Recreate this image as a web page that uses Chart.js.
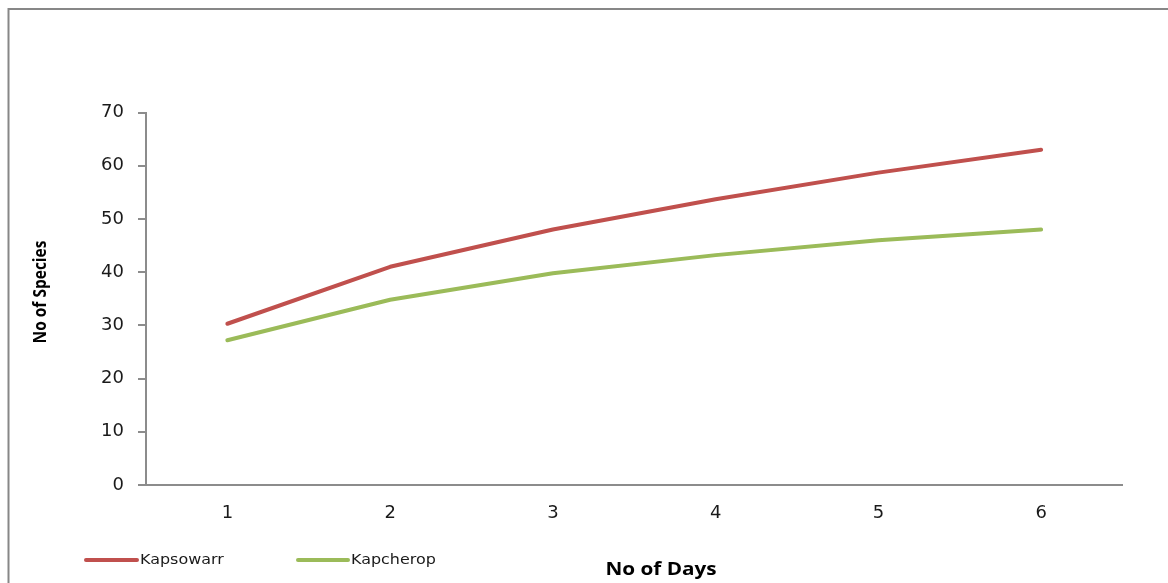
<!DOCTYPE html>
<html>
<head>
<meta charset="utf-8">
<title>No of Species by No of Days</title>
<script src="https://cdn.jsdelivr.net/npm/chart.js@4/dist/chart.umd.min.js"></script>
<style>
  html, body { margin: 0; padding: 0; background: #ffffff; }
  #wrap { width: 1168px; height: 583px; position: relative; }
  canvas { display: block; }
</style>
</head>
<body>
<div id="wrap"><canvas id="c" width="1168" height="583"></canvas></div>
<script>
// Survey effort: cumulative species counts per day at two sites
const days = ['1', '2', '3', '4', '5', '6'];
const kapsowarr = [30.3, 41.0, 48.0, 53.7, 58.7, 63.0];
const kapcherop = [27.2, 34.8, 39.8, 43.2, 46.0, 48.0];
const yTicks = [0, 10, 20, 30, 40, 50, 60, 70];

const seriesNames = ['Kapsowarr', 'Kapcherop'];
const seriesColors = ['#C0504D', '#9BBB59'];
const axisColor = '#8c8c8c';
const textColor = '#1a1a1a';

// Outer frame, legend and axis titles drawn on the canvas
const decorations = {
  id: 'decorations',
  afterDraw(chart) {
    const ctx = chart.ctx;
    ctx.save();
    // frame
    ctx.strokeStyle = '#878787';
    ctx.lineWidth = 2;
    ctx.strokeRect(8.5, 9, 1180, 600);

    // legend
    const items = [
      { x0: 86, x1: 137, tx: 140 },
      { x0: 298, x1: 348, tx: 351 }
    ];
    chart.data.datasets.forEach((ds, i) => {
      const it = items[i];
      const y = 560;
      ctx.strokeStyle = ds.borderColor;
      ctx.lineWidth = 4;
      ctx.lineCap = 'round';
      ctx.beginPath();
      ctx.moveTo(it.x0, y);
      ctx.lineTo(it.x1, y);
      ctx.stroke();
      ctx.save();
      ctx.translate(it.tx, y);
      ctx.scale(1.1, 1);
      ctx.fillStyle = textColor;
      ctx.font = '14.5px "DejaVu Sans"';
      ctx.textAlign = 'left';
      ctx.textBaseline = 'middle';
      ctx.fillText(ds.label, 0, 0);
      ctx.restore();
    });

    // x axis title
    ctx.save();
    ctx.translate(661, 570);
    ctx.scale(1.15, 1);
    ctx.fillStyle = '#000000';
    ctx.font = 'bold 18px "Open Sans"';
    ctx.textAlign = 'center';
    ctx.textBaseline = 'middle';
    ctx.fillText('No of Days', 0, 0);
    ctx.restore();

    // y axis title
    ctx.save();
    ctx.translate(41, 292);
    ctx.rotate(-Math.PI / 2);
    ctx.scale(1, 1.15);
    ctx.fillStyle = '#000000';
    ctx.font = 'bold 15.5px "Open Sans"';
    ctx.textAlign = 'center';
    ctx.textBaseline = 'middle';
    ctx.fillText('No of Species', 0, 0);
    ctx.restore();

    ctx.restore();
  }
};

new Chart(document.getElementById('c'), {
  type: 'line',
  data: {
    labels: days,
    datasets: [
      { label: seriesNames[0], data: kapsowarr, borderColor: seriesColors[0], backgroundColor: seriesColors[0] },
      { label: seriesNames[1], data: kapcherop, borderColor: seriesColors[1], backgroundColor: seriesColors[1] }
    ]
  },
  options: {
    responsive: false,
    animation: false,
    devicePixelRatio: 1,
    layout: { padding: { top: 112.5, right: 45.5, bottom: 0, left: 0 } },
    elements: {
      line: { borderWidth: 4, tension: 0, borderCapStyle: 'round', borderJoinStyle: 'round' },
      point: { radius: 0, hoverRadius: 0 }
    },
    plugins: {
      legend: { display: false },
      tooltip: { enabled: false },
      title: { display: false }
    },
    scales: {
      x: {
        type: 'category',
        offset: true,
        grid: { display: true, drawOnChartArea: false, drawTicks: false, color: axisColor },
        border: { display: true, color: axisColor, width: 2 },
        ticks: {
          color: textColor,
          font: { family: '"DejaVu Sans"', size: 18 },
          padding: 18,
          maxRotation: 0
        },
        afterFit(scale) { scale.height = 583 - 485; }
      },
      y: {
        min: 0,
        max: 70,
        afterBuildTicks(scale) { scale.ticks = yTicks.map(v => ({ value: v })); },
        grid: { display: true, drawOnChartArea: false, drawTicks: true, tickLength: 8, color: axisColor, lineWidth: 2 },
        border: { display: true, color: axisColor, width: 2 },
        ticks: {
          color: textColor,
          font: { family: '"DejaVu Sans"', size: 18 },
          padding: 14
        },
        afterFit(scale) { scale.width = 146; }
      }
    }
  },
  plugins: [decorations]
});
</script>
</body>
</html>
